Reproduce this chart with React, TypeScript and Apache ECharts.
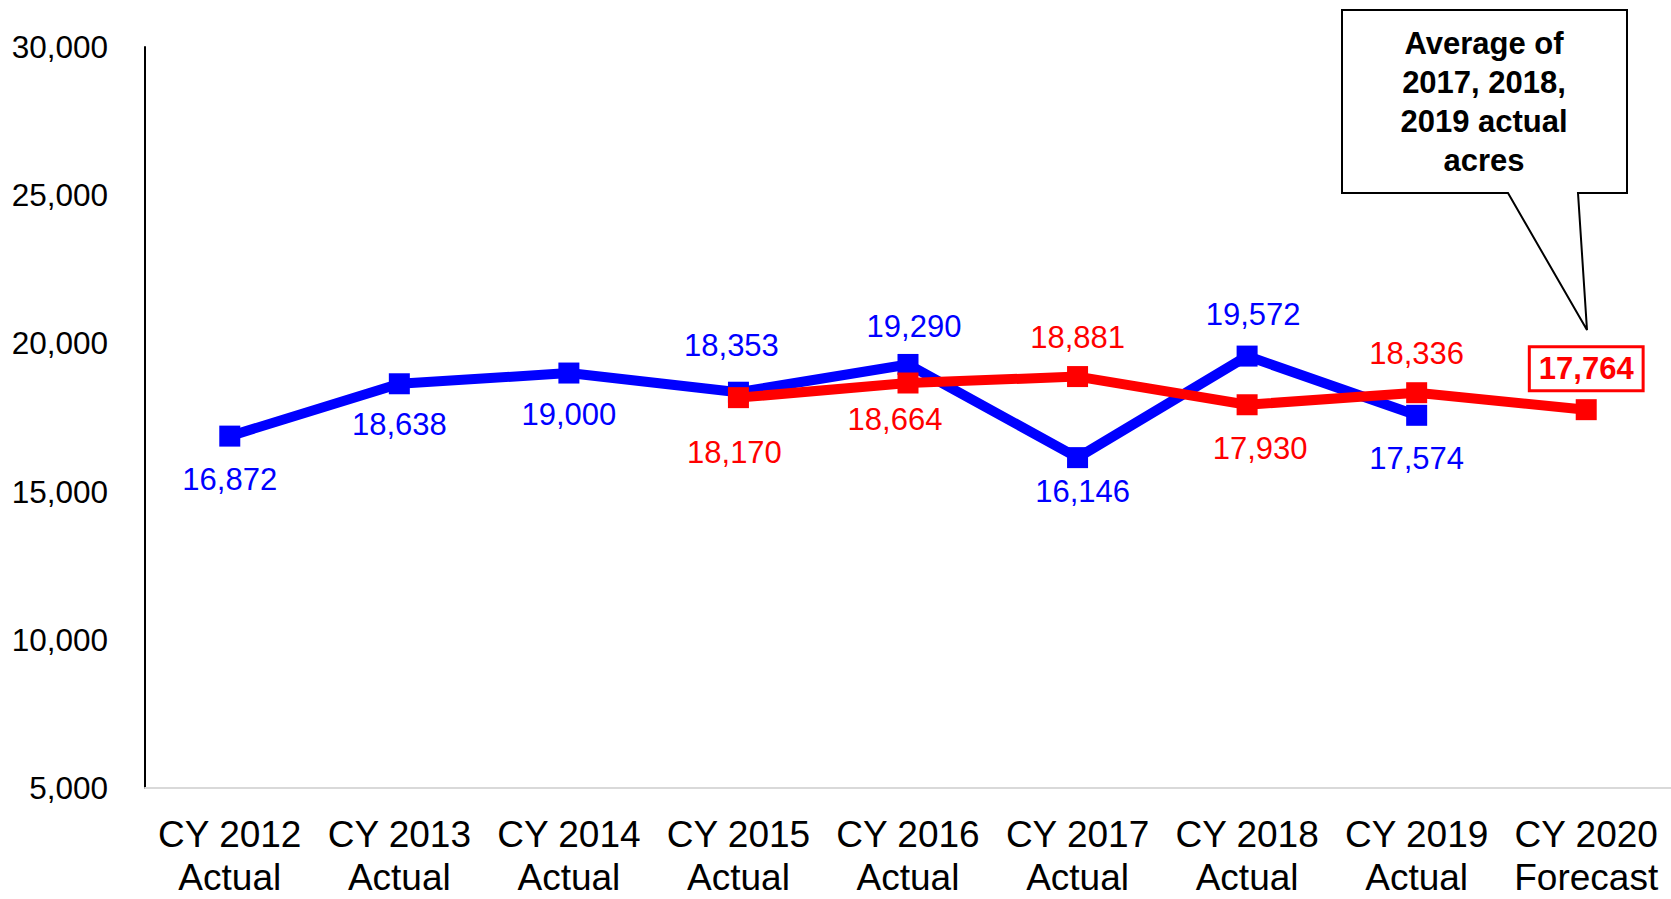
import React, { useEffect, useRef } from "react";
import * as echarts from "echarts";

const categories = [
  "CY 2012\nActual",
  "CY 2013\nActual",
  "CY 2014\nActual",
  "CY 2015\nActual",
  "CY 2016\nActual",
  "CY 2017\nActual",
  "CY 2018\nActual",
  "CY 2019\nActual",
  "CY 2020\nForecast",
];

const actualValues: (number | null)[] = [16872, 18638, 19000, 18353, 19290, 16146, 19572, 17574, null];
const averageValues: (number | null)[] = [null, null, null, 18170, 18664, 18881, 17930, 18336, 17764];

const yTicks = { min: 5000, max: 30000, interval: 5000 };

// label offsets (dx, dy) from each point centre
const actualLabelOffsets: [number, number][] = [
  [0, 43], [0, 41], [0, 41], [-7, -47], [6, -38], [5, 34], [6, -42], [0, 43], [0, 0],
];
const averageLabelOffsets: [number, number][] = [
  [0, 0], [0, 0], [0, 0], [-4, 55], [-13, 37], [0, -39], [13, 44], [0, -39], [0, -41],
];

const calloutText = "Average of\n2017, 2018,\n2019 actual\nacres";

const FONT = "'Liberation Sans', Arial, Helvetica, sans-serif";
const BLUE = "#0000FF";
const RED = "#FF0000";

function fmt(v: number) {
  return v.toLocaleString("en-US");
}

export default function App() {
  const ref = useRef<HTMLDivElement>(null);

  useEffect(() => {
    if (!ref.current) return;
    const chart = echarts.init(ref.current, undefined, { renderer: "svg" });

    const actualData = actualValues.map((v, i) => ({
      value: v,
      label: {
        position: "inside",
        offset: actualLabelOffsets[i],
      },
    }));
    const lastIdx = averageValues.length - 1;
    const averageData = averageValues.map((v, i) => {
      if (i === lastIdx) {
        return {
          value: v,
          label: {
            position: "inside",
            offset: averageLabelOffsets[i],
            fontWeight: "bold",
            borderColor: RED,
            borderWidth: 3,
            padding: [6, 8, 4, 8],
            backgroundColor: "#fff",
          },
        };
      }
      return {
        value: v,
        label: { position: "inside", offset: averageLabelOffsets[i] },
      };
    });

    chart.setOption({
      animation: false,
      backgroundColor: "#ffffff",
      grid: { left: 145, top: 47, width: 1527, height: 747, containLabel: false },
      xAxis: {
        type: "category",
        data: categories,
        boundaryGap: true,
        axisLine: { show: true, lineStyle: { color: "#d9d9d9", width: 2 } },
        axisTick: { show: false },
        axisLabel: {
          color: "#000",
          fontFamily: FONT,
          fontSize: 37,
          lineHeight: 43,
          margin: 25,
          interval: 0,
        },
        splitLine: { show: false },
      },
      yAxis: {
        type: "value",
        min: yTicks.min,
        max: yTicks.max,
        interval: yTicks.interval,
        axisLine: { show: true, lineStyle: { color: "#000", width: 2 } },
        axisTick: { show: false },
        splitLine: { show: false },
        axisLabel: {
          color: "#000",
          fontFamily: FONT,
          fontSize: 31.5,
          margin: 37,
          formatter: (v: number) => fmt(v),
        },
      },
      series: [
        {
          name: "Actual",
          type: "line",
          data: actualData,
          symbol: "rect",
          symbolSize: 21,
          z: 2,
          lineStyle: { color: BLUE, width: 10 },
          itemStyle: { color: BLUE },
          label: {
            show: true,
            color: BLUE,
            fontFamily: FONT,
            fontSize: 31,
            align: "center",
            verticalAlign: "middle",
            formatter: (p: any) => fmt(p.value),
          },
        },
        {
          name: "Average",
          type: "line",
          data: averageData,
          symbol: "rect",
          symbolSize: 21,
          z: 3,
          lineStyle: { color: RED, width: 10 },
          itemStyle: { color: RED },
          label: {
            show: true,
            color: RED,
            fontFamily: FONT,
            fontSize: 31,
            align: "center",
            verticalAlign: "middle",
            formatter: (p: any) => fmt(p.value),
          },
        },
      ],
      graphic: [
        {
          type: "polygon",
          z: 10,
          shape: {
            points: [
              [1342, 10],
              [1627, 10],
              [1627, 193],
              [1578, 193],
              [1587, 330],
              [1508, 193],
              [1342, 193],
            ],
          },
          style: { fill: "#ffffff", stroke: "#000000", lineWidth: 2 },
        },
        {
          type: "text",
          z: 11,
          x: 1484,
          y: 102,
          style: {
            text: calloutText,
            fill: "#000",
            font: `bold 31px ${FONT}`,
            fontFamily: FONT,
            fontWeight: "bold",
            fontSize: 31,
            lineHeight: 38.7,
            align: "center",
            verticalAlign: "middle",
          },
        },
      ],
    });

    return () => {
      chart.dispose();
    };
  }, []);

  return (
    <div
      ref={ref}
      style={{ position: "absolute", left: 0, top: 0, width: 1671, height: 899 }}
    />
  );
}
